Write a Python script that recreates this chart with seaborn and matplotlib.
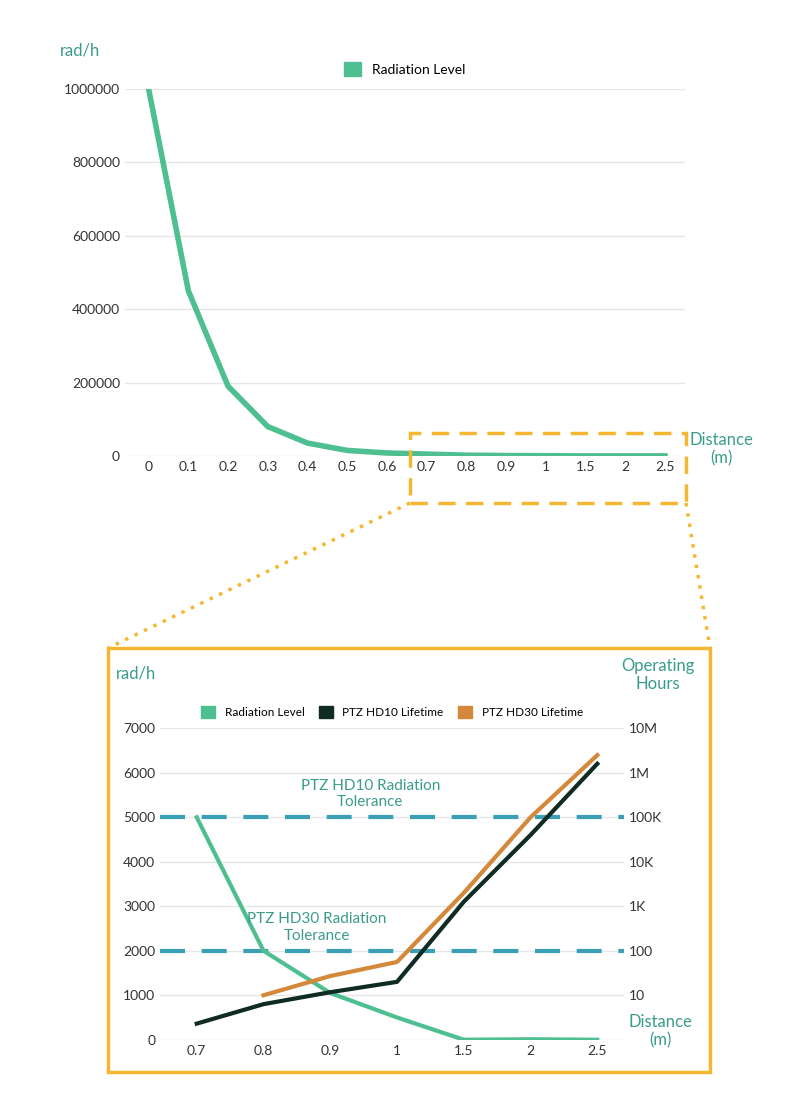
import numpy as np
import pandas as pd
import seaborn as sns
import matplotlib.pyplot as plt
from matplotlib.lines import Line2D
from matplotlib.patches import Rectangle, Patch
from matplotlib.ticker import FuncFormatter

plt.rcParams["font.family"] = "Lato"

# Top chart data
top_distance = ["0", "0.1", "0.2", "0.3", "0.4", "0.5", "0.6", "0.7", "0.8", "0.9", "1", "1.5", "2", "2.5"]
top_radiation = [1000000, 450000, 190000, 80000, 35000, 15000, 8000, 5000, 2000, 1000, 500, 0, 0, 0]

# Zoomed chart data
zoom_distance = ["0.7", "0.8", "0.9", "1", "1.5", "2", "2.5"]
zoom_radiation = [5000, 2000, 1050, 500, 0, 10, 0]
hd10_hours = [2.3, 6.3, 11.7, 20, 1260, 40000, 1600000]
hd30_hours = [None, 10, 27, 56, 2000, 100000, 2500000]
hd10_tolerance = 5000
hd30_tolerance = 2000
right_ticks = [10, 100, 1000, 10000, 100000, 1000000, 10000000]
right_labels = ["10", "100", "1K", "10K", "100K", "1M", "10M"]

GREEN = "#4dbf90"
DARK = "#0f2b22"
ORANGE = "#d4883a"
DASH = "#3a9fb5"
GOLD = "#f5b731"
TEAL = "#3a9c8a"
GRID = "#e6e6e6"

fig = plt.figure(figsize=(8, 11.12), dpi=100)
plain = FuncFormatter(lambda v, _: f"{int(v)}")


def style(ax):
    for s in ax.spines.values():
        s.set_visible(False)
    ax.tick_params(length=0, labelsize=10, colors="#333333")
    ax.grid(axis="y", color=GRID, lw=1)
    ax.grid(axis="x", visible=False)
    ax.set_axisbelow(True)
    ax.yaxis.set_major_formatter(plain)


# ---- top chart
ax1 = fig.add_axes([0.156, 0.59, 0.70, 0.33])
df_top = pd.DataFrame({"d": np.arange(len(top_distance)), "r": top_radiation})
sns.lineplot(data=df_top, x="d", y="r", color=GREEN, lw=4, ax=ax1)
ax1.set_xticks(range(len(top_distance)), top_distance)
ax1.set_ylim(0, 1000000)
ax1.set_yticks(range(0, 1000001, 200000))
ax1.set_xlim(-0.6, 13.5)
ax1.set_xlabel("")
ax1.set_ylabel("")
style(ax1)
ax1.legend(handles=[Patch(color=GREEN, label="Radiation Level")], loc="lower center",
           bbox_to_anchor=(0.5, 1.0), frameon=False, fontsize=10, handlelength=1.2, handleheight=1.2)
fig.text(0.075, 0.95, "rad/h", color=TEAL, fontsize=12)
fig.text(0.902, 0.583, "Distance\n(m)", color=TEAL, fontsize=12, ha="center")

# ---- zoomed chart
ax2 = fig.add_axes([0.20, 0.065, 0.58, 0.28])
df_z = pd.DataFrame({"d": np.arange(len(zoom_distance)), "r": zoom_radiation})
sns.lineplot(data=df_z, x="d", y="r", color=GREEN, lw=3, ax=ax2, zorder=3)
ax2.axhline(hd10_tolerance, color=DASH, lw=3, dashes=(6, 4), zorder=2)
ax2.axhline(hd30_tolerance, color=DASH, lw=3, dashes=(6, 4), zorder=2)
ax2.set_ylim(0, 7000)
ax2.set_yticks(range(0, 7001, 1000))
ax2.set_xticks(range(len(zoom_distance)), zoom_distance)
ax2.set_xlim(-0.55, 6.4)
ax2.set_xlabel("")
ax2.set_ylabel("")
style(ax2)
ax2.text(2.6, 5250, "PTZ HD10 Radiation\nTolerance", color=TEAL, fontsize=11, ha="center")
ax2.text(1.8, 2250, "PTZ HD30 Radiation\nTolerance", color=TEAL, fontsize=11, ha="center")

ax3 = ax2.twinx()
df_l = pd.DataFrame({"d": np.arange(len(zoom_distance)), "hd10": hd10_hours,
                     "hd30": pd.Series(hd30_hours, dtype=float)})
sns.lineplot(data=df_l, x="d", y="hd30", color=ORANGE, lw=3, ax=ax3)
sns.lineplot(data=df_l, x="d", y="hd10", color=DARK, lw=3, ax=ax3)
ax3.set_yscale("log")
ax3.set_ylim(1, 1e7)
ax3.set_yticks(right_ticks, right_labels)
ax3.minorticks_off()
ax3.set_ylabel("")
for s in ax3.spines.values():
    s.set_visible(False)
ax3.tick_params(length=0, labelsize=10, colors="#333333")
ax3.grid(False)

handles = [Patch(color=GREEN, label="Radiation Level"),
           Patch(color=DARK, label="PTZ HD10 Lifetime"),
           Patch(color=ORANGE, label="PTZ HD30 Lifetime")]
ax2.legend(handles=handles, loc="lower center", bbox_to_anchor=(0.5, 1.0), ncol=3,
           frameon=False, fontsize=8.5, handlelength=1.2, handleheight=1.2, columnspacing=1.2)
fig.text(0.145, 0.39, "rad/h", color=TEAL, fontsize=12)
fig.text(0.822, 0.38, "Operating\nHours", color=TEAL, fontsize=12, ha="center")
fig.text(0.825, 0.06, "Distance\n(m)", color=TEAL, fontsize=12, ha="center")

# ---- zoom boxes and connectors
W, H = 800, 1112


def fx(p):
    return p / W


def fy(p):
    return 1 - p / H


fig.add_artist(Rectangle((fx(410), fy(503)), fx(686) - fx(410), fy(433) - fy(503),
                         transform=fig.transFigure, fill=False, ec=GOLD, lw=2.5, ls=(0, (5, 3))))
fig.add_artist(Rectangle((fx(108), fy(1072)), fx(710) - fx(108), fy(648) - fy(1072),
                         transform=fig.transFigure, fill=False, ec=GOLD, lw=2.5))
fig.add_artist(Line2D([fx(410), fx(108)], [fy(503), fy(648)], transform=fig.transFigure,
                      color=GOLD, lw=2.5, ls=(0, (1, 2))))
fig.add_artist(Line2D([fx(686), fx(710)], [fy(503), fy(648)], transform=fig.transFigure,
                      color=GOLD, lw=2.5, ls=(0, (1, 2))))

fig.savefig("out.png", dpi=100, facecolor="white")
